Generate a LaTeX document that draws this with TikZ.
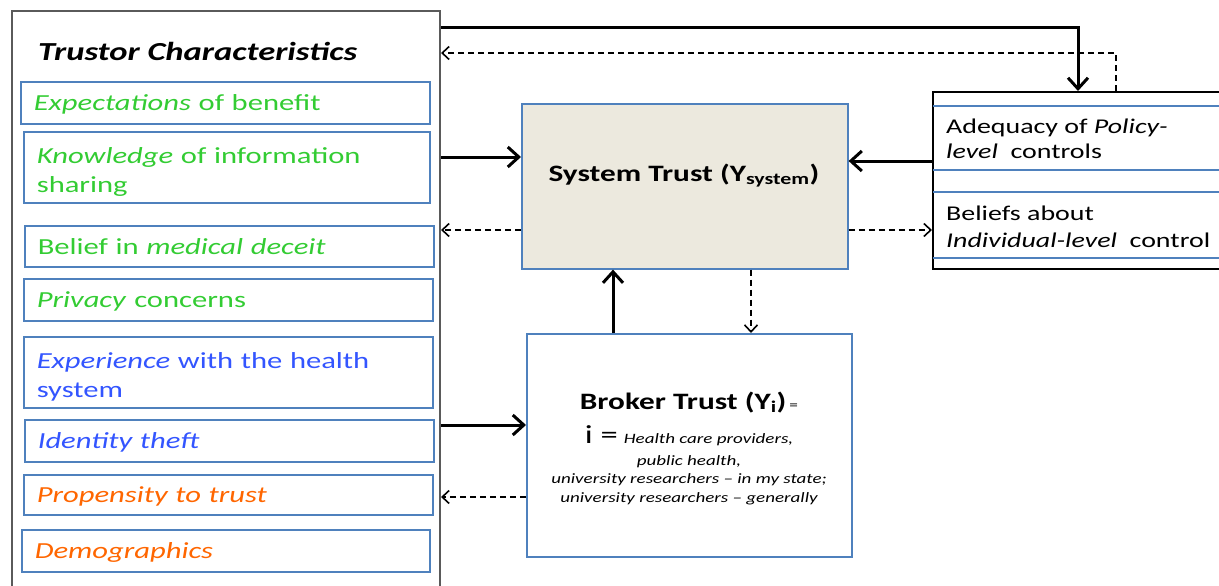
\documentclass[tikz,border=0pt]{standalone}
\usepackage{fontspec}
\setmainfont{Carlito}[FakeStretch=1.33]
\usetikzlibrary{arrows.meta}
\definecolor{bblue}{RGB}{79,129,189}
\definecolor{tgreen}{RGB}{51,204,51}
\definecolor{tblue}{RGB}{51,85,255}
\definecolor{torange}{RGB}{255,102,0}
\definecolor{beige}{RGB}{236,233,222}
\definecolor{frame}{RGB}{90,90,90}
\begin{document}
\begin{tikzpicture}[x=1pt,y=-1pt,
  item/.style={draw=bblue, line width=1.6pt, anchor=north west, inner xsep=13pt, inner ysep=0pt,
     align=left, font=\fontsize{23}{29}\selectfont},
  oneline/.style={item, text depth=0pt},
  solidarr/.style={line width=3pt, -{Straight Barb[length=11pt,width=20pt,line width=3pt]}},
  dasharr/.style={line width=1.6pt, dashed, dash pattern=on 6pt off 4pt, -{Straight Barb[length=7pt,width=13pt,line width=1.6pt]}},
  box/.style={draw=bblue, line width=1.6pt, anchor=north west, inner sep=0pt},
  brkline/.style={anchor=base, inner sep=0pt, font=\itshape\fontsize{14.3}{17}\selectfont}
]
\useasboundingbox (0,0) rectangle (1219,586);
% big trustor frame
\node[draw=frame, line width=2pt, anchor=north west, minimum width=428pt, minimum height=620pt, inner sep=0pt] (tc) at (11,10) {};
\node[anchor=base west, inner sep=0pt, font=\bfseries\itshape\fontsize{26}{30}\selectfont] (title) at (38,61) {Trustor Characteristics};
% items
\node[oneline, minimum width=409pt, minimum height=42pt, text width=383pt] (i1) at (20,81) {\color{tgreen}\textit{Expectations} of benefit};
\node[item, minimum width=406pt, minimum height=71pt, text width=380pt] (i2) at (23,131) {\rule{0pt}{25pt}\color{tgreen}\textit{Knowledge} of information\\ \color{tgreen}sharing};
\node[oneline, minimum width=409pt, minimum height=41pt, text width=383pt] (i3) at (24,225) {\color{tgreen}Belief in \textit{medical deceit}};
\node[oneline, minimum width=409pt, minimum height=42pt, text width=383pt] (i4) at (23,278) {\color{tgreen}\textit{Privacy} concerns};
\node[item, minimum width=409pt, minimum height=71pt, text width=383pt] (i5) at (23,336) {\rule{0pt}{25pt}\color{tblue}\textit{Experience} with the health\\ \color{tblue}system};
\node[oneline, minimum width=409pt, minimum height=42pt, text width=383pt] (i6) at (24,419) {\color{tblue}\textit{Identity theft}};
\node[oneline, minimum width=409pt, minimum height=40pt, text width=383pt] (i7) at (23,474) {\color{torange}\textit{Propensity to trust}};
\node[oneline, minimum width=408pt, minimum height=42pt, text width=382pt] (i8) at (21,529) {\color{torange}\textit{Demographics}};
% system trust
\node[box, fill=beige, minimum width=326pt, minimum height=165pt] (sys) at (521,103) {};
\node[anchor=base, inner sep=0pt, font=\bfseries\fontsize{23.5}{25}\selectfont] (systxt) at (684,181) {System Trust (Y\textsubscript{system})};
% broker trust
\node[box, minimum width=325pt, minimum height=223pt] (brk) at (526,333) {};
\node[anchor=base, inner sep=0pt] (brk1) at (689,409) {{\bfseries\fontsize{23.5}{26}\selectfont Broker Trust (Y\textsubscript{i})}\ {\fontsize{13}{14}\selectfont =}};
\node[anchor=base, inner sep=0pt] (brk2) at (689,443) {{\fontsize{26}{26}\selectfont i =}\ \ {\itshape\fontsize{14.3}{17}\selectfont Health care providers,}};
\node[brkline] (brk3) at (689,465) {public health,};
\node[brkline] (brk4) at (689,483) {university researchers -- in my state;};
\node[brkline] (brk5) at (689,502) {university researchers -- generally};
% controls box
\node[draw=black, line width=2pt, anchor=north west, minimum width=300pt, minimum height=177pt, inner sep=0pt] (ctl) at (932,91) {};
\foreach \yy in {106,170,192,258} \draw[bblue, line width=1.2pt] (933,\yy) -- (1219,\yy);
\node[anchor=base west, inner sep=0pt, align=left, font=\fontsize{21}{25}\selectfont] (pol) at (946,158) {Adequacy of \textit{Policy-}\\ \textit{level}\ \ controls};
\node[anchor=base west, inner sep=0pt, align=left, font=\fontsize{21}{27}\selectfont] (ind) at (946,247) {Beliefs about\\ \textit{Individual-level}\ \ control};
% coordinates for connectors
\coordinate (ytop) at (0,28);
\coordinate (ydash) at (0,53);
\coordinate (xtop) at (1078,0);
\coordinate (xdash) at (1116,0);
\coordinate (ysa) at (0,157);
\coordinate (ysb) at (0,230);
\coordinate (yra) at (0,161);
\coordinate (ybk) at (0,425);
\coordinate (ybd) at (0,497);
\coordinate (xup) at (613,0);
\coordinate (xdn) at (751,0);
% connectors
\draw[solidarr] (tc.east |- ytop) -| (ctl.north -| xtop);
\draw[dasharr] (ctl.north -| xdash) |- (tc.east |- ydash);
\draw[solidarr] (tc.east |- ysa) -- (sys.west |- ysa);
\draw[dasharr] (sys.west |- ysb) -- (tc.east |- ysb);
\draw[solidarr] (ctl.west |- yra) -- (sys.east |- yra);
\draw[dasharr] (sys.east |- ysb) -- (ctl.west |- ysb);
\draw[solidarr] (brk.north -| xup) -- (sys.south -| xup);
\draw[dasharr] (sys.south -| xdn) -- (brk.north -| xdn);
\draw[solidarr] (tc.east |- ybk) -- (brk.west |- ybk);
\draw[dasharr] (brk.west |- ybd) -- (tc.east |- ybd);
\end{tikzpicture}
\end{document}
